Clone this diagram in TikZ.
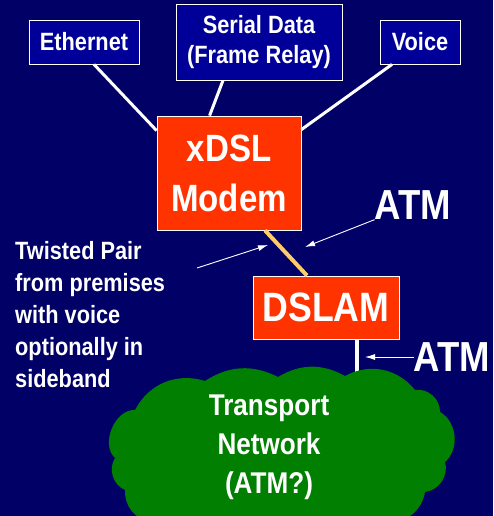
\documentclass[tikz,border=0pt]{standalone}
\usepackage{fontspec}
\setmainfont[FakeStretch=0.87]{Liberation Sans}
\usetikzlibrary{positioning,arrows.meta}
\definecolor{navybg}{HTML}{000066}
\definecolor{boxblue}{HTML}{000099}
\definecolor{modemred}{HTML}{FF3300}
\definecolor{cloudgreen}{HTML}{007F00}
\definecolor{pairorange}{HTML}{FFCC66}

\begin{document}
\begin{tikzpicture}[
  x=1pt, y=-1pt,
  text=white,
  ibox/.style={draw=white, fill=boxblue, line width=0.8pt, align=center, inner sep=0pt, font=\fontsize{25}{30}\selectfont\bfseries},
  rbox/.style={draw=white, fill=modemred, line width=0.8pt, align=center, inner sep=0pt},
  wire/.style={white, line width=3pt},
  pointer/.style={white, line width=0.9pt, -{Latex[length=10pt,width=6pt]}},
  biglabel/.style={inner sep=0pt, font=\fontsize{42}{42}\selectfont\bfseries}
]
  \fill[navybg] (0,0) rectangle (493,516);
  \useasboundingbox (0,0) rectangle (493,516);

  \node[ibox, minimum width=110pt, minimum height=44pt] (ether) at (84,42) {Ethernet};
  \node[ibox, minimum width=166pt, minimum height=76pt] (serial) at (259,42) {Serial Data\\(Frame Relay)};
  \node[ibox, minimum width=80pt, minimum height=44pt] (voice) at (420,42) {Voice};

  \node[rbox, minimum width=144pt, minimum height=114pt, font=\fontsize{38}{50}\selectfont\bfseries] (modem) at (229,173) {xDSL\\Modem};
  \node[rbox, minimum width=146pt, minimum height=63pt, font=\fontsize{41}{41}\selectfont\bfseries] (dslam) at (326,307.5) {DSLAM};

  \coordinate (cloudtop) at (357,382);
  \draw[white, line width=4pt] ([xshift=31pt]dslam.south) -- (cloudtop);

  % transport cloud
  \fill[cloudgreen] (115,458) to[bend left=70] (135,410) to[bend left=40] (205,381)
    to[bend left=30] (278,377) to[bend left=30] (345,376) to[bend left=40] (415,390)
    to[bend left=50] (440,412) to[bend left=55] (445,462) to[bend left=50] (425,492)
    to[bend left=40] (390,522) -- (150,522) to[bend left=40] (125,490) to[bend left=50] cycle;
  \node[align=center, font=\fontsize{30}{39}\selectfont\bfseries] (net) at (269,447) {Transport\\Network\\(ATM?)};

  \draw[wire] ([xshift=10pt]ether.south) -- ([yshift=-15pt]modem.north west);
  \draw[wire] ([xshift=-36pt]serial.south) -- ([xshift=53pt]modem.north west);
  \draw[wire] ([xshift=-28pt]voice.south) -- ([yshift=-14pt]modem.north east);
  \draw[pairorange, line width=4pt] ([xshift=36pt]modem.south) -- ([xshift=-19pt]dslam.north);

  \node[align=left, anchor=north west, inner sep=0pt, font=\fontsize{25}{32}\selectfont\bfseries] (pair) at (15,241)
    {Twisted Pair\\from premises\\with voice\\optionally in\\sideband};
  \node[biglabel] (atmtop) at (413,205) {ATM};
  \node[biglabel] (atmlow) at (452,357) {ATM};

  \coordinate (pairtail) at (197,268);
  \coordinate (pairtip) at (268,245);
  \coordinate (atmtip) at (305,247);
  \coordinate (linktip) at (365,357);

  \draw[pointer] (pairtail) -- (pairtip);
  \draw[pointer] (atmtop.south west) -- (atmtip);
  \draw[pointer] (atmlow.west) -- (linktip);
\end{tikzpicture}
\end{document}
